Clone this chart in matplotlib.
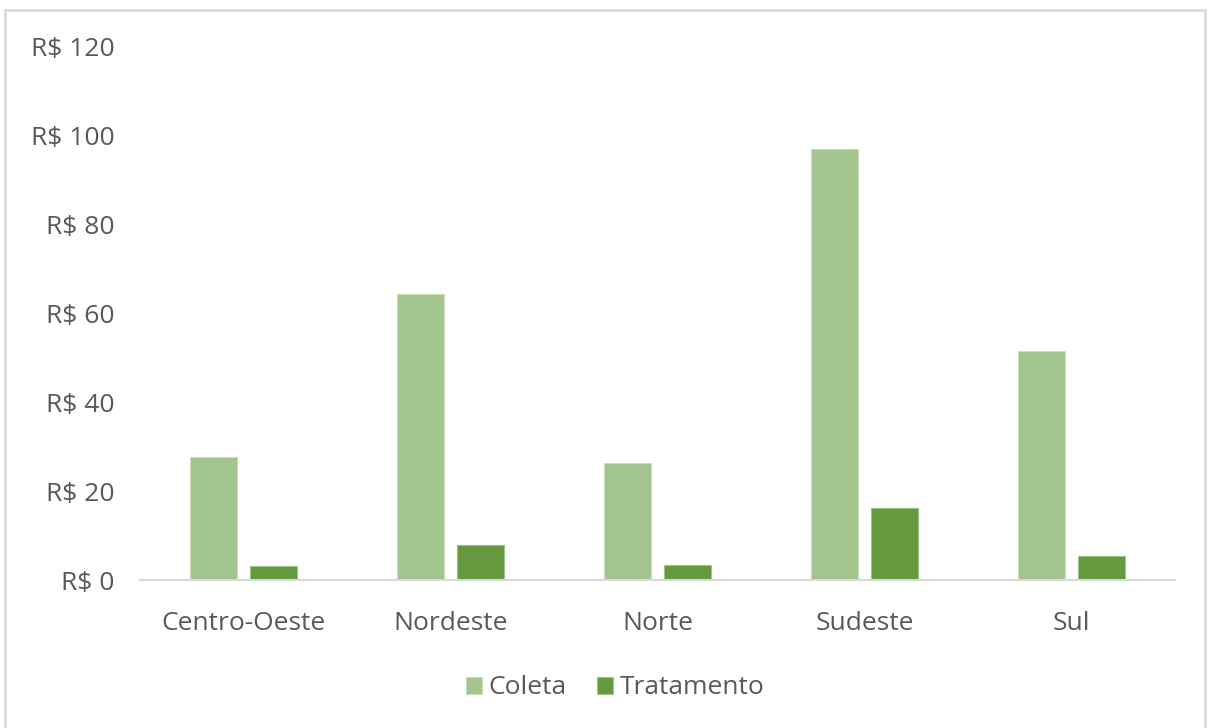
import matplotlib
matplotlib.use("Agg")
import matplotlib.pyplot as plt
import numpy as np
from matplotlib.patches import Rectangle

regioes = ["Centro-Oeste", "Nordeste", "Norte", "Sudeste", "Sul"]
coleta = [27.8, 64.4, 26.3, 97.0, 51.6]
tratamento = [3.1, 7.8, 3.4, 16.1, 5.3]
yticks = [0, 20, 40, 60, 80, 100, 120]
ytick_labels = [f"R$ {v}" for v in yticks]

plt.rcParams["font.family"] = ["Open Sans", "DejaVu Sans"]
text_color = "#595959"
fs = 19

fig = plt.figure(figsize=(12.11, 7.28), dpi=100)
ax = fig.add_axes([140 / 1211, 1 - 580 / 728, (1175 - 140) / 1211, (580 - 47) / 728])

x = np.arange(len(regioes))
w = 0.225
gap = 0.063
ax.bar(x - (w + gap) / 2, coleta, width=w, color="#A3C48F", edgecolor="#C9DEBB",
       linewidth=0.8, label="Coleta", zorder=2)
ax.bar(x + (w + gap) / 2, tratamento, width=w, color="#64993D", edgecolor="#9CC284",
       linewidth=0.8, label="Tratamento", zorder=2)

ax.set_xlim(-0.5, len(regioes) - 0.5)
ax.set_ylim(0, 120)
ax.set_yticks(yticks)
ax.set_yticklabels(ytick_labels)
ax.set_xticks(x)
ax.set_xticklabels(regioes)
ax.tick_params(axis="y", length=0, pad=18.2, labelsize=fs, labelcolor=text_color)
ax.tick_params(axis="x", length=0, pad=22, labelsize=fs, labelcolor=text_color)

for s in ["top", "right", "left"]:
    ax.spines[s].set_visible(False)
ax.spines["bottom"].set_color("#d9d9d9")
ax.spines["bottom"].set_linewidth(1.5)
ax.spines["bottom"].set_zorder(3)

leg = fig.legend(loc="center", bbox_to_anchor=(615 / 1211, 1 - 688 / 728), ncol=2,
                 frameon=False, fontsize=fs, handlelength=0.6, handleheight=0.6,
                 handletextpad=0.25, columnspacing=1.15)
for t in leg.get_texts():
    t.set_color(text_color)

fig.patches.append(Rectangle((5 / 1211, -0.01), (1205 - 5) / 1211, 1 - 10 / 728 + 0.01,
                             transform=fig.transFigure, fill=False,
                             edgecolor="#d9d9d9", linewidth=2))

fig.savefig("out.png", dpi=100)
